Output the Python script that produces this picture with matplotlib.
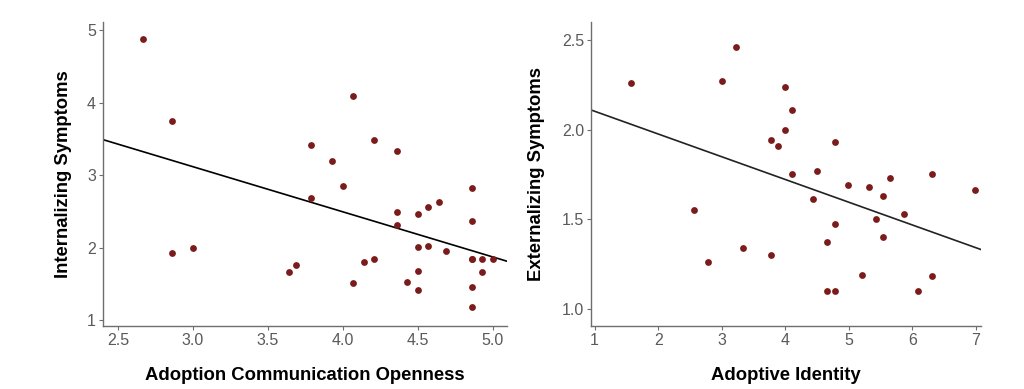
import matplotlib.pyplot as plt

plt.rcParams['font.family'] = ['Liberation Sans', 'DejaVu Sans']

# Left panel: adoption communication openness vs internalizing symptoms
open_x = [2.67, 2.86, 2.86, 3.00, 3.64, 3.69, 3.79, 3.79, 3.93, 4.00,
          4.07, 4.07, 4.14, 4.21, 4.21, 4.36, 4.36, 4.36, 4.43, 4.50,
          4.50, 4.50, 4.50, 4.57, 4.57, 4.64, 4.69, 4.86, 4.86, 4.86,
          4.86, 4.86, 4.86, 4.93, 4.93, 5.00]
intern_y = [4.88, 3.75, 1.93, 2.00, 1.66, 1.76, 3.41, 2.69, 3.20, 2.85,
            4.09, 1.51, 1.80, 3.48, 1.84, 3.33, 2.49, 2.31, 1.53, 2.46,
            2.01, 1.68, 1.42, 2.56, 2.02, 2.63, 1.95, 2.82, 2.37, 1.84,
            1.46, 1.18, 1.84, 1.84, 1.67, 1.85]
left_fit_x = [2.40, 5.10]
left_fit_y = [3.49, 1.81]

# Right panel: adoptive identity vs externalizing symptoms
ident_x = [1.57, 2.57, 2.79, 3.00, 3.23, 3.34, 3.78, 3.78, 3.89, 4.00,
           4.00, 4.11, 4.11, 4.44, 4.50, 4.66, 4.66, 4.78, 4.78, 4.78,
           4.99, 5.21, 5.32, 5.43, 5.54, 5.54, 5.65, 5.87, 6.09, 6.31,
           6.31, 6.98]
extern_y = [2.26, 1.55, 1.26, 2.27, 2.46, 1.34, 1.94, 1.30, 1.91, 2.24,
            2.00, 2.11, 1.75, 1.61, 1.77, 1.37, 1.10, 1.93, 1.47, 1.10,
            1.69, 1.19, 1.68, 1.50, 1.63, 1.40, 1.73, 1.53, 1.10, 1.75,
            1.18, 1.66]
right_fit_x = [0.94, 7.08]
right_fit_y = [2.11, 1.33]

pt_color = '#7a1c1c'
grey = '#6e6e6e'

fig = plt.figure(figsize=(10.24, 3.89), dpi=100)
ax1 = fig.add_axes([0.1006, 0.162, 0.3945, 0.781])
ax2 = fig.add_axes([0.577, 0.162, 0.381, 0.781])


def style(ax):
    for side in ['top', 'right']:
        ax.spines[side].set_visible(False)
    for side in ['left', 'bottom']:
        ax.spines[side].set_color(grey)
        ax.spines[side].set_linewidth(1.0)
    ax.tick_params(colors=grey, labelcolor='#5a5a5a', labelsize=11.5,
                   length=3, width=0.8, pad=2)


ax1.scatter(open_x, intern_y, s=24, color=pt_color, zorder=3, linewidths=0)
ax1.plot(left_fit_x, left_fit_y, color='black', lw=1.2)
ax1.set_xlim(2.40, 5.095)
ax1.set_ylim(0.92, 5.11)
ax1.set_xticks([2.5, 3.0, 3.5, 4.0, 4.5, 5.0])
ax1.set_yticks([1, 2, 3, 4, 5])
ax1.set_xlabel('Adoption Communication Openness', fontsize=13.3,
               fontweight='bold', labelpad=14)
ax1.set_ylabel('Internalizing Symptoms', fontsize=13.3,
               fontweight='bold', labelpad=11)
style(ax1)

ax2.scatter(ident_x, extern_y, s=24, color=pt_color, zorder=3, linewidths=0)
ax2.plot(right_fit_x, right_fit_y, color='#222222', lw=1.2)
ax2.set_xlim(0.94, 7.08)
ax2.set_ylim(0.903, 2.6)
ax2.set_xticks([1, 2, 3, 4, 5, 6, 7])
ax2.set_yticks([1.0, 1.5, 2.0, 2.5])
ax2.set_yticklabels(['1.0', '1.5', '2.0', '2.5'])
ax2.set_xlabel('Adoptive Identity', fontsize=13.3,
               fontweight='bold', labelpad=14)
ax2.set_ylabel('Externalizing Symptoms', fontsize=13.3,
               fontweight='bold', labelpad=12)
style(ax2)

fig.savefig('out.png', dpi=100)
